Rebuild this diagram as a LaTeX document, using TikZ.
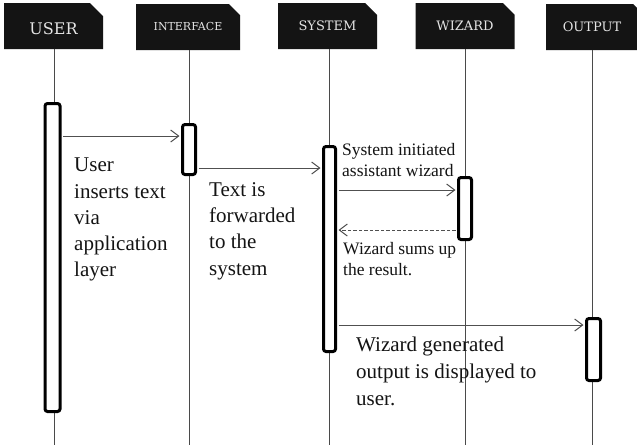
\documentclass[tikz,border=0pt]{standalone}
\usepackage{fontspec}
\setmainfont{Liberation Serif}
\newfontfamily\headfont{DejaVu Serif}
\usetikzlibrary{arrows.meta,shapes.misc}
\definecolor{headbg}{HTML}{141414}
\definecolor{headtx}{HTML}{E4E4E4}
\definecolor{lifegray}{HTML}{4A4A4A}
\definecolor{msggray}{HTML}{505050}
\definecolor{txt}{HTML}{141414}
\tikzset{
  header/.style={chamfered rectangle, chamfered rectangle corners=north east,
    chamfered rectangle xsep=8pt, chamfered rectangle ysep=7pt,
    fill=headbg, draw=none, text=headtx, inner sep=0pt,
    minimum width=99pt, minimum height=46pt, font=\headfont},
  lifeline/.style={draw=lifegray, line width=1pt},
  activation/.style={rectangle, draw=black, line width=3pt, fill=white,
    rounded corners=2.5pt, minimum width=13pt, inner sep=0pt},
  msg/.style={draw=msggray, line width=1pt, shorten >=1.5pt, shorten <=1.5pt,
    -{Straight Barb[length=8pt,width=12pt,line width=1pt]}},
  reply/.style={msg, dash pattern=on 3.5pt off 2pt},
  bigtxt/.style={anchor=base west, inner sep=0pt, text=txt, font=\fontsize{21}{26}\selectfont},
  smalltxt/.style={anchor=base west, inner sep=0pt, text=txt, font=\fontsize{17.5}{22}\selectfont},
}
\begin{document}
\begin{tikzpicture}[x=1pt, y=-1pt]
\useasboundingbox (0,0) rectangle (637,445);
\fill[white] (0,0) rectangle (637,445);

% participants
\node[header, font=\headfont\fontsize{16}{16}\selectfont] (user) at (53.5,26) {\raisebox{-3pt}[\height][\depth]{USER}};
\node[header, minimum width=104pt, font=\headfont\fontsize{11}{11}\selectfont] (iface) at (188,27) {\raisebox{1pt}[\height][\depth]{INTERFACE}};
\node[header, font=\headfont\fontsize{13}{13}\selectfont] (sys) at (327.5,26) {SYSTEM};
\node[header, font=\headfont\fontsize{13}{13}\selectfont] (wiz) at (465,26) {WIZARD};
\node[header, font=\headfont\fontsize{13}{13}\selectfont] (out) at (595.5,27) {\hspace*{-7pt}OUTPUT};

% lifeline ends
\coordinate (userEnd) at (54,445);
\coordinate (ifaceEnd) at (189,445);
\coordinate (sysEnd) at (329,445);
\coordinate (wizEnd) at (465,445);
\coordinate (outEnd) at (592,445);

\draw[lifeline] (user.south -| userEnd) -- (userEnd);
\draw[lifeline] (iface.south -| ifaceEnd) -- (ifaceEnd);
\draw[lifeline] (sys.south -| sysEnd) -- (sysEnd);
\draw[lifeline] (wiz.south -| wizEnd) -- (wizEnd);
\draw[lifeline] (out.south -| outEnd) -- (outEnd);

% activation bars
\node[activation, minimum width=15pt, minimum height=308pt] (userAct) at (52.5,257.5) {};
\node[activation, minimum height=50pt] (ifaceAct) at (189,149.5) {};
\node[activation, minimum width=12pt, minimum height=205pt] (sysAct) at (329.5,249) {};
\node[activation, minimum height=62pt] (wizAct) at (465,208.5) {};
\node[activation, minimum width=14pt, minimum height=62pt] (outAct) at (593.5,349.5) {};

% message rows
\coordinate (m1) at (0,136);
\coordinate (m2) at (0,168);
\coordinate (m3) at (0,190);
\coordinate (m4) at (0,230);
\coordinate (m5) at (0,325);

\draw[msg] (userAct.east |- m1) -- (ifaceAct.west |- m1);
\draw[msg] (ifaceAct.east |- m2) -- (sysAct.west |- m2);
\draw[msg] (sysAct.east |- m3) -- (wizAct.west |- m3);
\draw[reply] (wizAct.west |- m4) -- (sysAct.east |- m4);
\draw[msg] (sysAct.east |- m5) -- (outAct.west |- m5);

% annotations
\foreach \t [count=\i] in {User, inserts text, via, application, layer}
  \node[bigtxt] (noteUser\i) at (74,{171.7+26.3*(\i-1)}) {\t};
\foreach \t [count=\i] in {Text is, forwarded, to the, system}
  \node[bigtxt] (noteIface\i) at (209,{196.7+26.1*(\i-1)}) {\t};
\foreach \t [count=\i] in {System initiated, assistant wizard}
  \node[smalltxt] (noteSys\i) at (342,{155+21.7*(\i-1)}) {\t};
\foreach \t [count=\i] in {Wizard sums up, the result.}
  \node[smalltxt] (noteWiz\i) at (343,{254+21.3*(\i-1)}) {\t};
\foreach \t [count=\i] in {Wizard generated, output is displayed to, user.}
  \node[bigtxt] (noteOut\i) at (356,{351.7+26.7*(\i-1)}) {\t};
\end{tikzpicture}
\end{document}
